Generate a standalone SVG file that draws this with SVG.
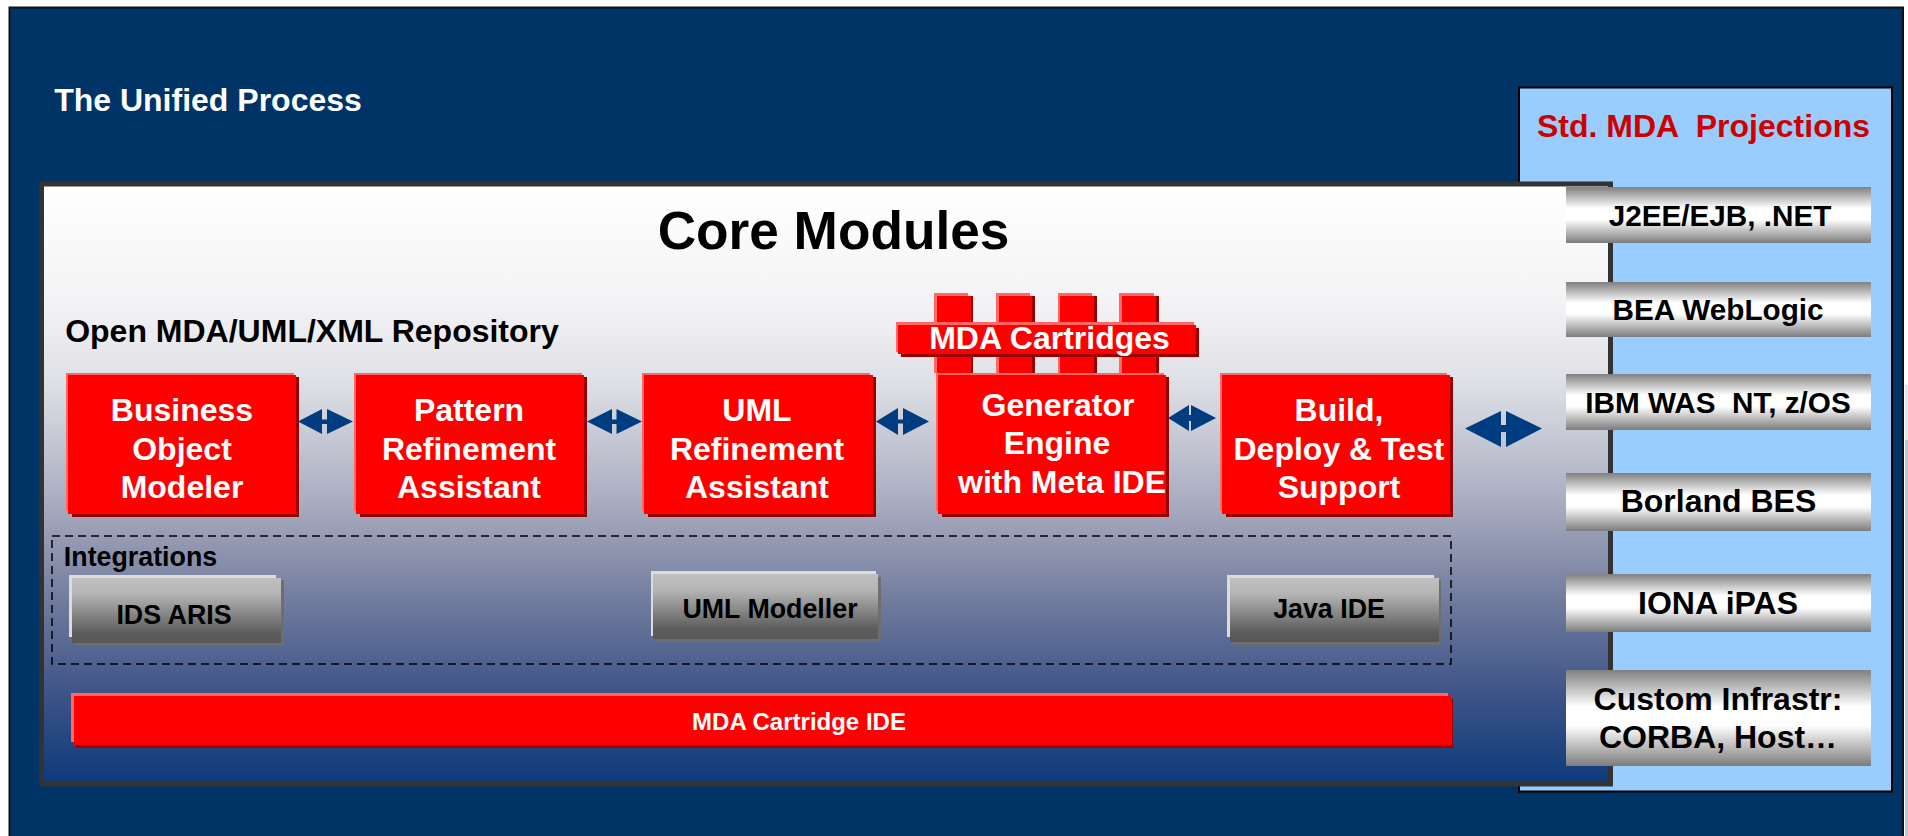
<svg xmlns="http://www.w3.org/2000/svg" width="1908" height="836" viewBox="0 0 1908 836">
<defs>
<linearGradient id="core" x1="0" y1="0" x2="0" y2="1">
<stop offset="0" stop-color="#ffffff"/><stop offset="0.2" stop-color="#f3f3f5"/><stop offset="0.33" stop-color="#dfe0e6"/><stop offset="0.55" stop-color="#a3a7bc"/><stop offset="0.7" stop-color="#6f7a9c"/><stop offset="0.85" stop-color="#3d5488"/><stop offset="1" stop-color="#0c3a7b"/>
</linearGradient>
<linearGradient id="chrome" x1="0" y1="0" x2="0" y2="1">
<stop offset="0" stop-color="#808080"/><stop offset="0.38" stop-color="#ffffff"/><stop offset="0.58" stop-color="#ffffff"/><stop offset="1" stop-color="#7c7c7c"/>
</linearGradient>
<linearGradient id="steel" x1="0" y1="0" x2="0" y2="1">
<stop offset="0" stop-color="#c0c0c0"/><stop offset="0.25" stop-color="#b4b4b4"/><stop offset="0.85" stop-color="#5c5c5c"/><stop offset="1" stop-color="#585858"/>
</linearGradient>
</defs>
<style>
text{font-family:"Liberation Sans",Arial,sans-serif;font-weight:bold;text-anchor:middle;white-space:pre}
.w{fill:#ffffff}.k{fill:#000000}
.hi{fill:#ff6666}.sh{fill:#990000}.rd{fill:#ff0000}
.ghi{fill:#dcdcdc}.gsh{fill:#6e6e6e}.gm{fill:url(#steel)}
.chrome{fill:url(#chrome)}
.arrow{fill:#003d80}
.m32{font-size:32px}.s30{font-size:29.7px}.s32{font-size:32px}.g27{font-size:26.8px}
</style>
<rect x="0" y="0" width="1908" height="836" fill="#ffffff"/>
<rect x="1905" y="385" width="3" height="55" fill="#e4e6ee"/>
<rect x="1905" y="440" width="3" height="396" fill="#bcc5da"/>
<g id="background">
<rect x="9.5" y="7.5" width="1893.5" height="840" fill="#003366" stroke="#111111" stroke-width="2"/>
<text class="w" x="208" y="111" font-size="32">The Unified Process</text>
</g>
<g id="projections-panel">
<rect x="1519" y="87.5" width="373" height="704" fill="#99ccff" stroke="#000000" stroke-width="2"/>
<text x="1703.5" y="137" font-size="32" fill="#cc0000">Std. MDA  Projections</text>
</g>
<g id="core-panel">
<rect x="41.5" y="184" width="1569" height="600" fill="url(#core)" stroke="#333333" stroke-width="5"/>
<text class="k" x="833.5" y="249" font-size="53.2">Core Modules</text>
<text class="k" x="312" y="342" font-size="32">Open MDA/UML/XML Repository</text>
</g>
<g id="connectors">
<polygon class="arrow" points="298,421.5 322,409 322,419.5 327,419.5 327,409 353,421.5 327,434 327,424 322,424 322,434"/>
<polygon class="arrow" points="587,421.5 612,409 612,419.5 616.5,419.5 616.5,409 642,421.5 616.5,434 616.5,424 612,424 612,434"/>
<polygon class="arrow" points="876,421.5 898,408 898,419.5 903,419.5 903,408 929,421.5 903,435 903,423.5 898,423.5 898,435"/>
<polygon class="arrow" points="1168,418 1189,405 1189,415 1191,415 1191,405 1216,418 1191,431 1191,421 1189,421 1189,431"/>
<polygon class="arrow" points="1465,428.5 1501,411 1501,425 1506,425 1506,411 1542,428.5 1506,447 1506,432 1501,432 1501,447"/>
</g>
<g id="business-object-modeler">
<rect class="sh" x="72" y="377" width="227" height="140"/><rect class="hi" x="66" y="373" width="228" height="138"/><rect class="rd" x="68" y="375" width="228" height="139"/>
<text class="w m32" x="182" y="421">Business</text><text class="w m32" x="182" y="460">Object</text><text class="w m32" x="182" y="498">Modeler</text>
</g>
<g id="pattern-refinement-assistant">
<rect class="sh" x="360" y="377" width="227" height="140"/><rect class="hi" x="354" y="373" width="228" height="138"/><rect class="rd" x="356" y="375" width="228" height="139"/>
<text class="w m32" x="469" y="421">Pattern</text><text class="w m32" x="469" y="460">Refinement</text><text class="w m32" x="469" y="498">Assistant</text>
</g>
<g id="uml-refinement-assistant">
<rect class="sh" x="648" y="377" width="228" height="140"/><rect class="hi" x="642" y="373" width="228" height="138"/><rect class="rd" x="644" y="375" width="229" height="139"/>
<text class="w m32" x="757" y="421">UML</text><text class="w m32" x="757" y="460">Refinement</text><text class="w m32" x="757" y="498">Assistant</text>
</g>
<g id="mda-cartridges">
<rect class="sh" x="940" y="296" width="33" height="77"/><rect class="hi" x="934" y="293" width="34" height="80"/><rect class="rd" x="937" y="296" width="34" height="77"/>
<rect class="sh" x="1002" y="296" width="33" height="77"/><rect class="hi" x="996" y="293" width="34" height="80"/><rect class="rd" x="999" y="296" width="33" height="77"/>
<rect class="sh" x="1063" y="296" width="34" height="77"/><rect class="hi" x="1058" y="293" width="34" height="80"/><rect class="rd" x="1060" y="296" width="34" height="77"/>
<rect class="sh" x="1125" y="296" width="34" height="77"/><rect class="hi" x="1119" y="293" width="35" height="80"/><rect class="rd" x="1122" y="296" width="34" height="77"/>
<rect class="sh" x="901" y="328" width="298" height="29"/><rect class="hi" x="896" y="322" width="298" height="30"/><rect class="rd" x="898" y="325" width="298" height="29"/>
<text class="w" x="1049.5" y="349" font-size="32">MDA Cartridges</text>
</g>
<g id="generator-engine">
<rect class="sh" x="942" y="377" width="227" height="140"/><rect class="hi" x="936" y="373" width="228" height="138"/><rect class="rd" x="938" y="375" width="228" height="139"/>
<text class="w m32" x="1058" y="416">Generator</text><text class="w m32" x="1057" y="454">Engine</text><text class="w m32" x="1062" y="493">with Meta IDE</text>
</g>
<g id="build-deploy-test">
<rect class="sh" x="1226" y="377" width="227" height="140"/><rect class="hi" x="1220" y="373" width="227" height="138"/><rect class="rd" x="1222" y="375" width="228" height="139"/>
<text class="w m32" x="1339" y="421">Build,</text><text class="w m32" x="1339" y="460">Deploy &amp; Test</text><text class="w m32" x="1339" y="498">Support</text>
</g>
<g id="integrations">
<rect x="52" y="536" width="1399" height="128" fill="none" stroke="#000000" stroke-width="1.5" stroke-dasharray="8 5"/>
<text class="k" x="140.5" y="566" font-size="26.8">Integrations</text>
</g>
<g id="ids-aris">
<rect class="gsh" x="75" y="580" width="209" height="65"/><rect class="ghi" x="69" y="575" width="207" height="62"/><rect class="gm" x="72" y="578" width="209" height="65"/>
<text class="k g27" x="174" y="624">IDS ARIS</text>
</g>
<g id="uml-modeller">
<rect class="gsh" x="656" y="577" width="225" height="65"/><rect class="ghi" x="651" y="571" width="225" height="65"/><rect class="gm" x="653" y="574" width="225" height="65"/>
<text class="k g27" x="770" y="618">UML Modeller</text>
</g>
<g id="java-ide">
<rect class="gsh" x="1233" y="580" width="208" height="65"/><rect class="ghi" x="1227" y="575" width="207" height="62"/><rect class="gm" x="1230" y="578" width="209" height="64"/>
<text class="k g27" x="1329" y="618">Java IDE</text>
</g>
<g id="mda-cartridge-ide">
<rect class="sh" x="76" y="699" width="1377" height="49"/><rect class="hi" x="71" y="693" width="1377" height="49"/><rect class="rd" x="74" y="696" width="1378" height="49"/>
<text class="w" x="799" y="730" font-size="24">MDA Cartridge IDE</text>
</g>
<g id="j2ee"><rect class="chrome" x="1566" y="187" width="305" height="56"/><text class="k s30" x="1720" y="226">J2EE/EJB, .NET</text></g>
<g id="bea"><rect class="chrome" x="1566" y="282" width="305" height="55"/><text class="k s30" x="1718" y="320">BEA WebLogic</text></g>
<g id="ibm"><rect class="chrome" x="1566" y="374" width="305" height="56"/><text class="k s30" x="1718" y="413">IBM WAS  NT, z/OS</text></g>
<g id="borland"><rect class="chrome" x="1566" y="473" width="305" height="58"/><text class="k s32" x="1718.5" y="512">Borland BES</text></g>
<g id="iona"><rect class="chrome" x="1566" y="574" width="305" height="58"/><text class="k s32" x="1718" y="614">IONA iPAS</text></g>
<g id="custom"><rect class="chrome" x="1566" y="670" width="305" height="96"/><text class="k s32" x="1718" y="710">Custom Infrastr:</text><text class="k s32" x="1718" y="748">CORBA, Host…</text></g>
</svg>
